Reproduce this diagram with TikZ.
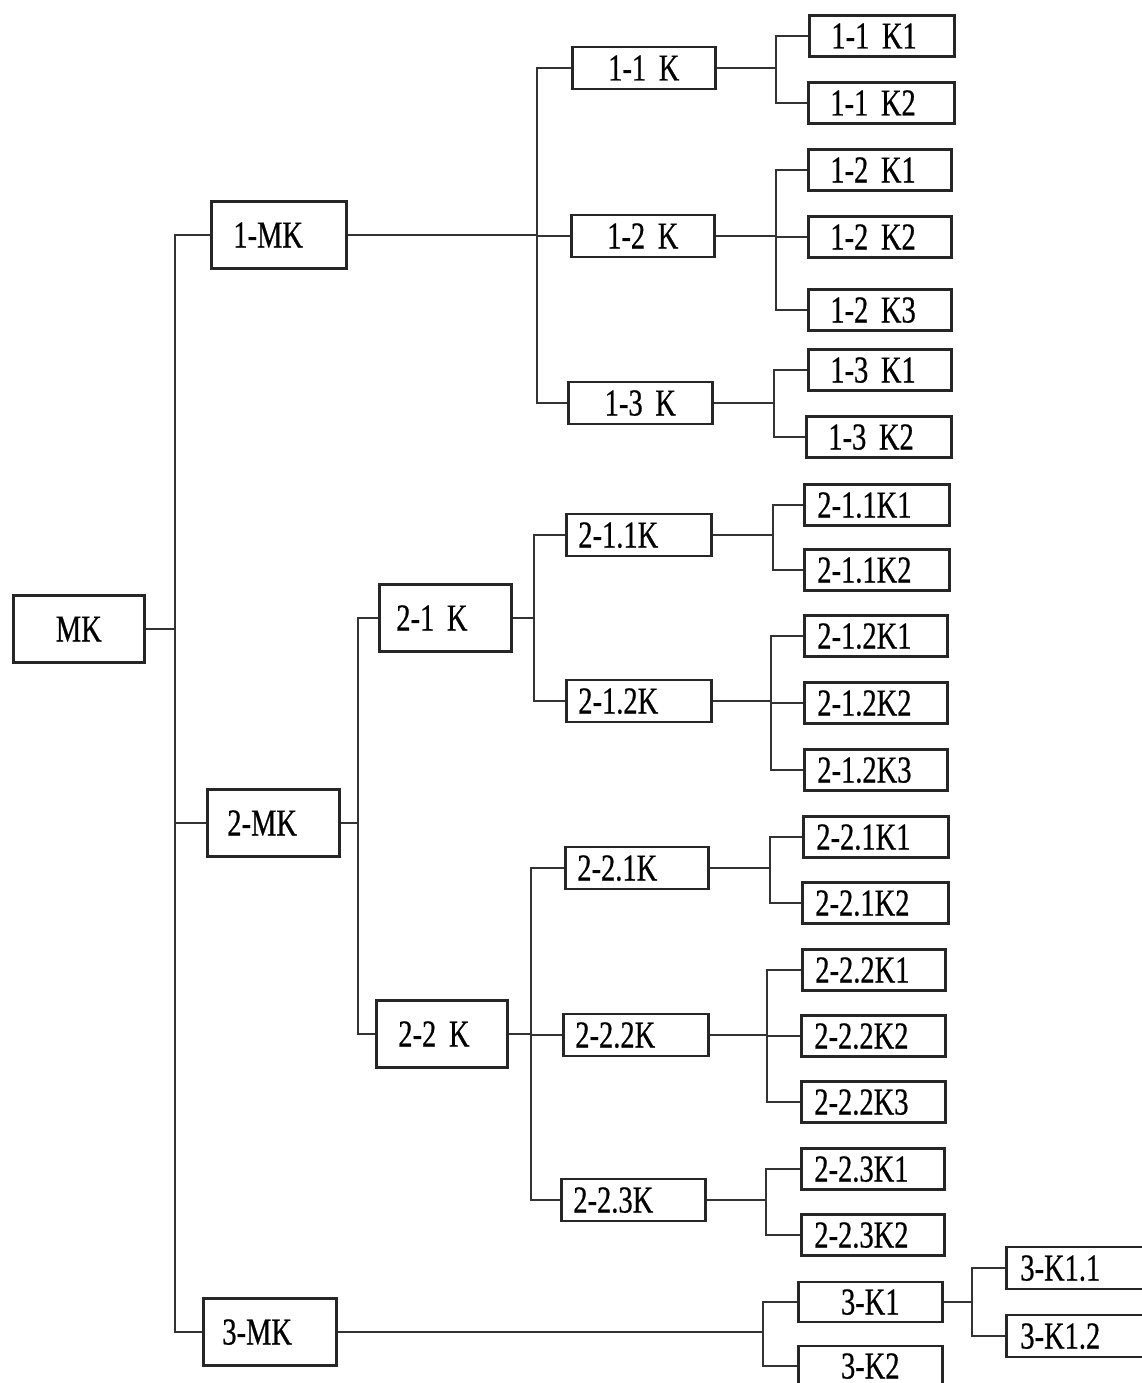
\documentclass[tikz,border=0pt]{standalone}
\usepackage{fontspec}
\setmainfont{Liberation Serif}[FakeStretch=0.75, FakeBold=0.6]
\protected\def\lblfont{\fontsize{38}{40}\selectfont\spaceskip=5pt plus 1pt\relax}
\begin{document}
\begin{tikzpicture}[x=1pt,y=-1pt,
  bx/.style={draw=black!85, line width=2.6pt, fill=white, inner ysep=0pt,
    text height=25pt, text depth=0pt, anchor=west, align=left,
    font=\lblfont},
  topb/.style={bx, minimum height=67pt},
  midb/.style={bx, minimum height=42pt},
  leafb/.style={bx, minimum height=41pt},
  cent/.style={align=center},
  wp/.style 2 args={text width=#1pt, inner xsep=#2pt},
  con/.style={draw=black!80, line width=2.4pt}]
\useasboundingbox (0,0) rectangle (1141,1383);
\fill[white] (0,0) rectangle (1141,1383);
% level 0/1
\node[topb, wp={121}{5}, cent] (MK) at (12,629) {MK};
\node[topb, wp={91}{22}] (m1) at (210,235) {1-MK};
\node[topb, wp={92}{20}] (m2) at (206,823) {2-MK};
\node[topb, wp={95}{19}] (m3) at (202,1332) {3-MK};
% branch 1
\node[midb, wp={133}{5}, cent] (k11) at (571,68) {1-1 K};
\node[midb, wp={133}{5}, cent] (k12) at (570,236) {1-2 K};
\node[midb, wp={134}{5}, cent] (k13) at (567,403) {1-3 K};
\node[leafb, wp={101}{22}] (l111) at (808,36) {1-1 K1};
\node[leafb, wp={102}{22}] (l112) at (807,103) {1-1 K2};
\node[leafb, wp={99}{22}] (l121) at (807,170) {1-2 K1};
\node[leafb, wp={99}{22}] (l122) at (807,237) {1-2 K2};
\node[leafb, wp={99}{22}] (l123) at (807,310) {1-2 K3};
\node[leafb, wp={99}{22}] (l131) at (807,370) {1-3 K1};
\node[leafb, wp={101}{22}] (l132) at (805,437) {1-3 K2};
% branch 2
\node[topb, wp={98}{17}] (k21) at (378,618) {2-1 K};
\node[topb, wp={87}{22}] (k22) at (375,1034) {2-2 K};
\node[midb, wp={121}{12}] (k211) at (565,535) {2-1.1K};
\node[midb, wp={121}{12}] (k212) at (565,701) {2-1.2K};
\node[midb, wp={119}{12}] (k221) at (564,868) {2-2.1K};
\node[midb, wp={121}{12}] (k222) at (562,1035) {2-2.2K};
\node[midb, wp={120}{12}] (k223) at (560,1200) {2-2.3K};
\node[leafb, wp={119}{13}] (l2111) at (803,505) {2-1.1K1};
\node[leafb, wp={119}{13}] (l2112) at (803,570) {2-1.1K2};
\node[leafb, wp={117}{13}] (l2121) at (803,636) {2-1.2K1};
\node[leafb, wp={117}{13}] (l2122) at (803,703) {2-1.2K2};
\node[leafb, wp={117}{13}] (l2123) at (803,770) {2-1.2K3};
\node[leafb, wp={119}{13}] (l2211) at (802,837) {2-2.1K1};
\node[leafb, wp={120}{13}] (l2212) at (801,903) {2-2.1K2};
\node[leafb, wp={117}{13}] (l2221) at (801,970) {2-2.2K1};
\node[leafb, wp={118}{13}] (l2222) at (800,1036) {2-2.2K2};
\node[leafb, wp={118}{13}] (l2223) at (800,1102) {2-2.2K3};
\node[leafb, wp={117}{13}] (l2231) at (800,1169) {2-2.3K1};
\node[leafb, wp={117}{13}] (l2232) at (800,1235) {2-2.3K2};
% branch 3
\node[midb, minimum height=40pt, wp={134}{5}, cent] (k31) at (797,1302) {3-K1};
\node[midb, minimum height=40pt, wp={134}{5}, cent] (k32) at (797,1366) {3-K2};
\node[midb, wp={132}{14}] (l311) at (1005,1268) {3-K1.1};
\node[midb, wp={132}{14}] (l312) at (1005,1336) {3-K1.2};
% bus positions
\coordinate (t0) at (175,0);
\coordinate (b1) at (537,0);
\coordinate (b11) at (776,0);
\coordinate (b12) at (776,0);
\coordinate (b13) at (774,0);
\coordinate (b2) at (358,0);
\coordinate (b21) at (534,0);
\coordinate (b211) at (773,0);
\coordinate (b212) at (771,0);
\coordinate (b22) at (531,0);
\coordinate (b221) at (770,0);
\coordinate (b222) at (767,0);
\coordinate (b223) at (766,0);
\coordinate (b3) at (763,0);
\coordinate (b31) at (972,0);
% connectors
\foreach \c in {m1,m2,m3}
  \draw[con] (\c.west) -| (t0 |- MK.east) -- (MK.east);
\foreach \c in {k11,k12,k13}
  \draw[con] (\c.west) -| (b1 |- m1.east) -- (m1.east);
\foreach \c in {l111,l112}
  \draw[con] (\c.west) -| (b11 |- k11.east) -- (k11.east);
\foreach \c in {l121,l122,l123}
  \draw[con] (\c.west) -| (b12 |- k12.east) -- (k12.east);
\foreach \c in {l131,l132}
  \draw[con] (\c.west) -| (b13 |- k13.east) -- (k13.east);
\foreach \c in {k21,k22}
  \draw[con] (\c.west) -| (b2 |- m2.east) -- (m2.east);
\foreach \c in {k211,k212}
  \draw[con] (\c.west) -| (b21 |- k21.east) -- (k21.east);
\foreach \c in {l2111,l2112}
  \draw[con] (\c.west) -| (b211 |- k211.east) -- (k211.east);
\foreach \c in {l2121,l2122,l2123}
  \draw[con] (\c.west) -| (b212 |- k212.east) -- (k212.east);
\foreach \c in {k221,k222,k223}
  \draw[con] (\c.west) -| (b22 |- k22.east) -- (k22.east);
\foreach \c in {l2211,l2212}
  \draw[con] (\c.west) -| (b221 |- k221.east) -- (k221.east);
\foreach \c in {l2221,l2222,l2223}
  \draw[con] (\c.west) -| (b222 |- k222.east) -- (k222.east);
\foreach \c in {l2231,l2232}
  \draw[con] (\c.west) -| (b223 |- k223.east) -- (k223.east);
\foreach \c in {k31,k32}
  \draw[con] (\c.west) -| (b3 |- m3.east) -- (m3.east);
\foreach \c in {l311,l312}
  \draw[con] (\c.west) -| (b31 |- k31.east) -- (k31.east);
\end{tikzpicture}
\end{document}
